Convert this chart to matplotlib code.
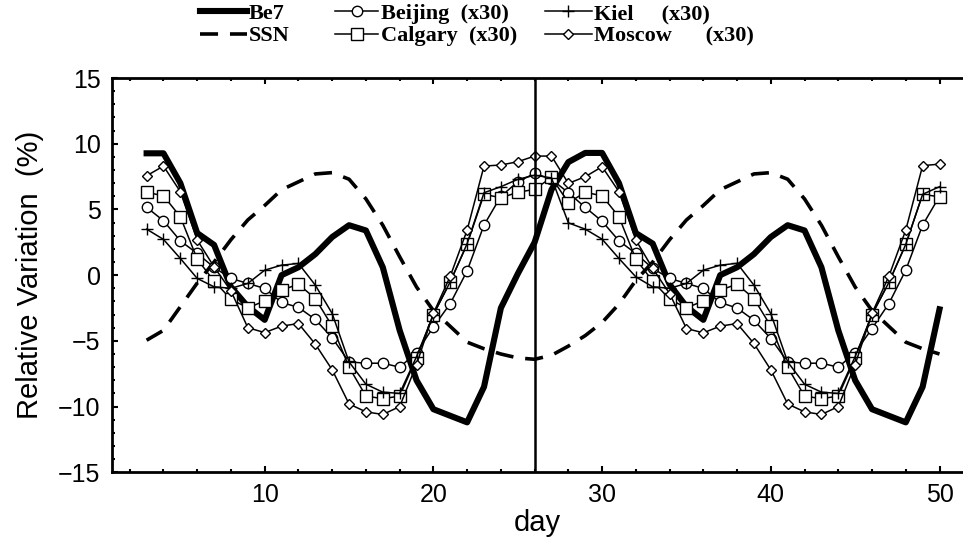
#!/usr/bin/env python3
"""Relative variation of Be7, SSN and neutron monitor counts over a solar rotation."""

import matplotlib
matplotlib.use("Agg")
import matplotlib.pyplot as plt
from matplotlib.lines import Line2D
from matplotlib.ticker import MultipleLocator

days = list(range(3, 51))

be7 = [9.27, 9.27, 7.0, 3.2, 2.3, -0.9, -2.4, -3.4, 0.0, 0.6, 1.6, 2.9, 3.8, 3.4,
       0.6, -4.2, -8.0, -10.2, -10.7, -11.2, -8.5, -2.5, 0.1, 2.5, 6.5, 8.6,
       9.3, 9.3, 7.0, 3.2, 2.4, -0.7, -2.4, -3.4, 0.0, 0.6, 1.6, 2.9, 3.8, 3.4,
       0.6, -4.2, -8.0, -10.2, -10.7, -11.2, -8.5, -2.6]

ssn = [-4.95, -4.2, -2.4, -0.6, 1.0, 2.7, 4.2, 5.3, 6.5, 7.1, 7.7, 7.8, 7.3, 5.8,
       3.8, 1.4, -0.9, -2.7, -3.9, -5.1, -5.6, -6.0, -6.3, -6.4, -6.1, -5.4,
       -4.6, -3.6, -2.2, -0.4, 1.0, 2.7, 4.2, 5.3, 6.5, 7.1, 7.7, 7.8, 7.3, 5.8,
       3.8, 1.4, -0.9, -2.7, -3.9, -5.1, -5.6, -6.0]

beijing = [5.16, 4.14, 2.61, 1.65, 0.59, -0.25, -0.63, -1.01, -2.08, -2.45, -3.37,
           -4.77, -6.6, -6.7, -6.7, -7.0, -5.9, -3.94, -2.16, 0.33, 3.81, 6.0, 7.1,
           7.74, 7.3, 6.27,
           5.16, 4.1, 2.61, 1.65, 0.51, -0.25, -0.63, -1.01, -2.08, -2.5, -3.43,
           -4.82, -6.6, -6.7, -6.7, -7.0, -5.9, -4.06, -2.16, 0.38, 3.81, 6.0]

calgary = [6.3, 6.04, 4.44, 1.22, -0.46, -1.83, -2.49, -1.96, -1.14, -0.69, -1.78,
           -3.88, -7.0, -9.2, -9.4, -9.2, -6.3, -3.0, -0.5, 2.36, 6.15, 5.89, 6.3,
           6.53, 7.44, 5.51,
           6.3, 6.04, 4.44, 1.22, -0.46, -1.83, -2.49, -1.96, -1.14, -0.69, -1.78,
           -3.88, -7.0, -9.2, -9.4, -9.2, -6.3, -3.0, -0.55, 2.34, 6.15, 5.96]

kiel = [3.5, 2.72, 1.27, -0.25, -0.89, -1.0, -0.63, 0.38, 0.76, 0.89, -0.76,
        -2.92, -6.6, -8.3, -8.9, -9.0, -6.2, -3.0, -0.5, 2.4, 6.27, 6.73, 7.29,
        7.6, 7.4, 3.98,
        3.5, 2.74, 1.27, -0.13, -0.89, -1.0, -0.63, 0.38, 0.76, 0.9, -0.76,
        -2.92, -6.6, -8.3, -8.9, -9.0, -6.2, -3.0, -0.55, 2.34, 6.15, 6.73]

moscow = [7.56, 8.3, 6.35, 2.67, 0.63, -1.2, -4.0, -4.37, -3.88, -3.68, -5.25,
          -7.2, -9.8, -10.4, -10.6, -10.0, -6.8, -2.9, -0.08, 3.43, 8.3, 8.38,
          8.63, 9.06, 9.06, 6.98,
          7.49, 8.25, 6.35, 2.67, 0.51, -1.4, -4.06, -4.39, -3.88, -3.68, -5.2,
          -7.2, -9.8, -10.4, -10.6, -10.0, -6.8, -2.9, -0.08, 3.43, 8.33, 8.45]

epoch_day = 26
x_ticks = [10, 20, 30, 40, 50]
y_ticks = [-15, -10, -5, 0, 5, 10, 15]

W, H = 963, 539
label_font = ["Liberation Sans", "DejaVu Sans"]
legend_font = ["Liberation Serif", "DejaVu Serif"]

fig = plt.figure(figsize=(W / 100, H / 100), dpi=100)
left_px, right_px, top_px, bottom_px = 111.7, 963, 78, 472.3
ax = fig.add_axes([left_px / W, 1 - bottom_px / H,
                   (right_px - left_px) / W, (bottom_px - top_px) / H])

px_per_day = 16.87
ax.set_xlim(10 - (264.7 - left_px) / px_per_day, 10 + (right_px - 264.7) / px_per_day)
ax.set_ylim(-15, 15)

mk = dict(color="black", lw=1.1, markerfacecolor="white", markeredgecolor="black",
          markeredgewidth=1.0)
ax.plot(days, be7, color="black", lw=4.4, zorder=2)
ax.plot(days, ssn, color="black", lw=2.6, dashes=(5, 3.3), zorder=2)
ax.plot(days, beijing, marker="o", ms=7.5, zorder=3, **mk)
ax.plot(days, calgary, marker="s", ms=8, zorder=3, **mk)
ax.plot(days, kiel, marker="+", ms=9, zorder=3, **mk)
ax.plot(days, moscow, marker="D", ms=5, zorder=4, **mk)
ax.axvline(epoch_day, color="black", lw=1.8, zorder=5)

ax.set_xticks(x_ticks)
ax.set_yticks(y_ticks)
ax.xaxis.set_minor_locator(MultipleLocator(2))
ax.yaxis.set_minor_locator(MultipleLocator(1))
ax.tick_params(which="both", direction="in", top=True, right=False, width=1.5,
               colors="black")
ax.tick_params(which="major", length=4.5, pad=8, labelsize=18)
ax.tick_params(which="minor", length=2)
for lbl in ax.get_xticklabels() + ax.get_yticklabels():
    lbl.set_family(label_font)
for side in ["left", "bottom", "top"]:
    ax.spines[side].set_linewidth(2)
ax.spines["right"].set_visible(False)

ax.set_xlabel("day", family=label_font, fontsize=21, labelpad=1)
ax.set_ylabel("Relative Variation  (%)", family=label_font, fontsize=21, labelpad=10)

# legend in three separate columns along the top
cols = [
    (200, 2.1, [Line2D([], [], color="black", lw=4.4),
                Line2D([], [], color="black", lw=2.6, dashes=(5, 3.3))],
     ["Be7", "SSN"]),
    (335, 1.95, [Line2D([], [], marker="o", ms=7.5, **mk),
                 Line2D([], [], marker="s", ms=8, **mk)],
     ["Beijing  (x30)", "Calgary  (x30)"]),
    (545, 2.1, [Line2D([], [], marker="+", ms=9, **mk),
                Line2D([], [], marker="D", ms=5, **mk)],
     ["Kiel     (x30)", "Moscow      (x30)"]),
]
for x0, hlen, handles, labels in cols:
    fig.legend(handles, labels, loc="upper left",
               bbox_to_anchor=(x0 / W, 1 - 3.5 / H),
               frameon=False, borderpad=0, borderaxespad=0, labelspacing=0.08,
               handlelength=hlen, handletextpad=0.1, numpoints=1,
               prop={"family": legend_font, "weight": "bold", "size": 16})

fig.savefig("out.png", dpi=100)
